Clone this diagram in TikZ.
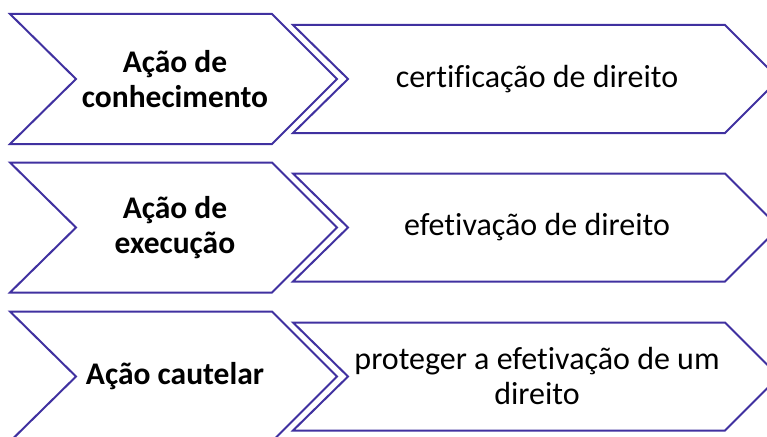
\documentclass[tikz,border=0pt]{standalone}
\usepackage{fontspec}
\setmainfont[Ligatures=NoCommon]{Carlito}
\usetikzlibrary{calc}
\definecolor{chevline}{RGB}{64,49,160}
\tikzset{
  chev/.style={draw=chevline, line width=2pt, fill=white, line join=miter},
  keytext/.style={align=center, font=\fontsize{31.5}{35}\selectfont\bfseries},
  desctext/.style={align=center, font=\fontsize{32}{35}\selectfont}
}

\begin{document}
\begin{tikzpicture}[x=1pt, y=-1pt]
   \useasboundingbox (0,0) rectangle (767,436);
   \begin{scope}
   \clip (0,0) rectangle (767,436);
   \coordinate (r1) at (0,79);
   \coordinate (r2) at (0,227.5);
   \coordinate (r3) at (0,376.5);
   % left chevrons
   \draw [chev] ($(r1)+(10,-65)$) -- ++(262,0) -- ++(65,65) -- ++(-65,65) -- ++(-262,0) -- ++(66,-65) -- cycle;
   \draw [chev] ($(r2)+(10,-65)$) -- ++(262,0) -- ++(65,65) -- ++(-65,65) -- ++(-262,0) -- ++(66,-65) -- cycle;
   \draw [chev] ($(r3)+(10,-65)$) -- ++(262,0) -- ++(65,65) -- ++(-65,65) -- ++(-262,0) -- ++(66,-65) -- cycle;
   % right chevrons
   \draw [chev] ($(r1)+(293,-54)$) -- ++(432,0) -- ++(54,54) -- ++(-54,54) -- ++(-432,0) -- ++(55,-54) -- cycle;
   \draw [chev] ($(r2)+(293,-54)$) -- ++(432,0) -- ++(54,54) -- ++(-54,54) -- ++(-432,0) -- ++(55,-54) -- cycle;
   \draw [chev] ($(r3)+(293,-54)$) -- ++(432,0) -- ++(54,54) -- ++(-54,54) -- ++(-432,0) -- ++(55,-54) -- cycle;
   \end{scope}

   \node [keytext] (conhecimento) at ($(r1)+(175,0)$) {Ação de\\conhecimento};
   \node [keytext] (execucao) at ($(r2)+(175,0)$) {Ação de\\execução};
   \node [keytext] (cautelar) at ($(r3)+(175,0)$) {Ação cautelar};
   \node [desctext] (certificacao) at ($(r1)+(537,0)$) {certificação de direito};
   \node [desctext] (efetivacao) at ($(r2)+(537,0)$) {efetivação de direito};
   \node [desctext] (proteger) at ($(r3)+(537,0)$) {proteger a efetivação de um\\direito};

\end{tikzpicture}
\end{document}
